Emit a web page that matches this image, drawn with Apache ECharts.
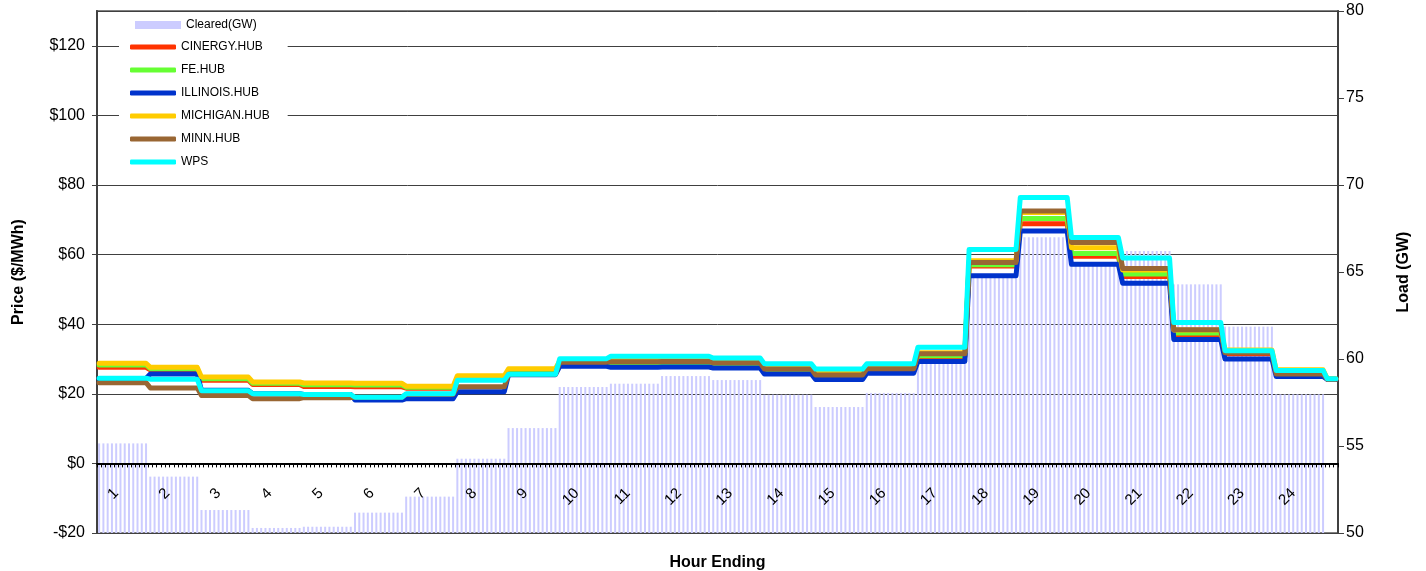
<!DOCTYPE html>
<html>
<head>
<meta charset="utf-8">
<script src="https://cdn.jsdelivr.net/npm/echarts@6/dist/echarts.min.js"></script>
<style>
html,body{margin:0;padding:0;background:#fff;}
#chart{width:1426px;height:571px;}
</style>
</head>
<body>
<div id="chart"></div>
<script>
// Hour-ending labels
const hourLabels = ['1','2','3','4','5','6','7','8','9','10','11','12','13','14','15','16','17','18','19','20','21','22','23','24'];
// Cleared load (GW) per hour
const clearedGW = [55.15, 53.24, 51.32, 50.29, 50.36, 51.17, 52.09, 54.27, 56.03, 58.39, 58.58, 59.02, 58.79, 57.95, 57.24, 58.05, 59.71, 64.8, 66.99, 65.5, 66.21, 64.29, 61.86, 57.97];
// Hourly prices ($/MWh); last entry = partial next hour shown at the right edge
const cinergyHub  = [27.6, 26.9, 23.9, 22.7, 22.1, 22.0, 21.6, 24.2, 26.5, 28.5, 28.6, 28.7, 28.3, 26.4, 24.8, 26.6, 30.6, 56.7, 68.9, 59.5, 53.7, 37.0, 31.5, 26.0, 24.2];
const feHub       = [28.3, 27.2, 24.3, 23.0, 22.6, 22.5, 21.9, 24.6, 26.8, 28.8, 29.0, 29.0, 28.6, 26.6, 25.0, 26.8, 30.9, 57.1, 70.4, 60.3, 54.4, 37.5, 31.9, 26.1, 24.2];
const illinoisHub = [24.4, 25.7, 21.0, 20.0, 19.8, 18.2, 18.6, 20.6, 25.5, 27.9, 27.6, 27.7, 27.4, 25.7, 24.1, 25.9, 29.3, 53.9, 66.8, 57.2, 51.8, 35.6, 30.0, 25.0, 24.1];
const michiganHub = [28.8, 27.6, 24.8, 23.4, 23.1, 23.0, 22.2, 25.2, 27.2, 29.4, 29.8, 29.8, 29.5, 27.4, 25.8, 27.5, 31.8, 58.2, 72.1, 62.0, 55.6, 38.3, 32.6, 26.9, 24.3];
const minnHub     = [23.2, 21.7, 19.5, 18.6, 18.9, 19.0, 19.9, 22.0, 25.6, 29.1, 29.2, 29.3, 28.9, 27.1, 25.4, 27.2, 31.5, 57.7, 72.5, 63.5, 56.0, 38.4, 31.8, 25.7, 24.2];
const wps         = [24.5, 24.2, 20.9, 20.0, 19.8, 19.0, 20.0, 23.9, 25.6, 30.1, 30.8, 30.8, 30.3, 28.6, 27.1, 28.6, 33.4, 61.5, 76.4, 64.9, 59.0, 40.5, 32.4, 26.7, 24.3];
// Y-axis tick settings
const priceTicks = {min: -20, max: 130, interval: 20};
const loadTicks = {min: 50, max: 80, interval: 5};

const intervalsPerHour = 12;   // 5-minute intervals
const tailIntervals = 3;       // partial hour at the right edge

const categories = [];
const hourOf = [];
for (let h = 0; h < hourLabels.length + 1; h++) {
  const n = h < hourLabels.length ? intervalsPerHour : tailIntervals;
  for (let i = 0; i < n; i++) {
    categories.push(h < hourLabels.length ? hourLabels[h] : '');
    hourOf.push(h);
  }
}
const expand = arr => hourOf.map(h => (h < arr.length ? arr[h] : null));

const FONT = "'Liberation Sans', Arial, sans-serif";
const lineSeries = [
  ['CINERGY.HUB', cinergyHub, '#FF3300'],
  ['FE.HUB', feHub, '#66FF33'],
  ['ILLINOIS.HUB', illinoisHub, '#0033CC'],
  ['MICHIGAN.HUB', michiganHub, '#FFCC00'],
  ['MINN.HUB', minnHub, '#996633'],
  ['WPS', wps, '#00FFFF']
];

const chart = echarts.init(document.getElementById('chart'), null, {renderer: 'canvas'});
chart.setOption({
  animation: false,
  backgroundColor: '#fff',
  textStyle: {fontFamily: FONT},
  grid: {left: 97, right: 88, top: 11, bottom: 38, containLabel: false, outerBoundsMode: 'none',
         show: true, borderColor: '#808080', borderWidth: 2, backgroundColor: 'transparent'},
  legend: [
    {
      data: ['Cleared(GW)'],
      orient: 'vertical', left: 130, top: 14,
      icon: 'rect', itemWidth: 46, itemHeight: 8,
      textStyle: {fontSize: 12, color: '#000', fontFamily: FONT}
    },
    {
      data: lineSeries.map(s => s[0]),
      orient: 'vertical', left: 119, top: 39,
      padding: [2, 18, 2, 11],
      backgroundColor: '#fff',
      icon: 'roundRect', itemWidth: 46, itemHeight: 5, itemGap: 11,
      textStyle: {fontSize: 12, color: '#000', fontFamily: FONT}
    }
  ],
  xAxis: {
    type: 'category',
    data: categories,
    boundaryGap: true,
    z: 10,
    name: 'Hour Ending',
    nameLocation: 'middle',
    nameGap: 22,
    nameTextStyle: {fontSize: 16, fontWeight: 'bold', color: '#000', fontFamily: FONT},
    axisLine: {onZero: true, onZeroAxisIndex: 0, lineStyle: {color: '#000', width: 2}},
    axisTick: {show: true, interval: 0, length: 4, lineStyle: {color: '#000', width: 1}},
    axisLabel: {
      interval: (index) => index % intervalsPerHour === 4 && index < hourLabels.length * intervalsPerHour,
      rotate: 45, margin: -42, fontSize: 15, color: '#000', fontFamily: FONT
    },
    splitLine: {show: false}
  },
  yAxis: [
    {
      type: 'value',
      min: priceTicks.min, max: priceTicks.max, interval: priceTicks.interval,
      name: 'Price ($/MWh)', nameLocation: 'middle', nameGap: 70, nameRotate: 90,
      nameTextStyle: {fontSize: 16, fontWeight: 'bold', color: '#000', fontFamily: FONT},
      axisLine: {show: true, lineStyle: {color: '#404040', width: 2}},
      axisTick: {show: true, length: 5, lineStyle: {color: '#404040'}},
      axisLabel: {
        fontSize: 16, color: '#000', margin: 12, showMaxLabel: false, fontFamily: FONT,
        formatter: v => (v < 0 ? '-$' + (-v) : '$' + v)
      },
      splitLine: {show: true, lineStyle: {color: '#404040', width: 1}}
    },
    {
      type: 'value',
      min: loadTicks.min, max: loadTicks.max, interval: loadTicks.interval,
      position: 'right',
      name: 'Load (GW)', nameLocation: 'middle', nameGap: 58, nameRotate: 90,
      nameTextStyle: {fontSize: 16, fontWeight: 'bold', color: '#000', fontFamily: FONT},
      axisLine: {show: true, lineStyle: {color: '#404040', width: 2}},
      axisTick: {show: true, length: 6, lineStyle: {color: '#404040'}},
      axisLabel: {fontSize: 16, color: '#000', margin: 8, fontFamily: FONT},
      splitLine: {show: false}
    }
  ],
  series: [
    {
      name: 'Cleared(GW)',
      type: 'bar',
      yAxisIndex: 1,
      data: expand(clearedGW),
      barWidth: 2,
      clip: true,
      itemStyle: {color: '#CCCCFF'},
      z: 1
    }
  ].concat(lineSeries.map((s, i) => ({
    name: s[0],
    type: 'line',
    yAxisIndex: 0,
    data: expand(s[1]),
    symbol: 'none',
    showSymbol: false,
    itemStyle: {color: s[2]},
    lineStyle: {color: s[2], width: 5, join: 'round', cap: 'round'},
    z: 3 + i
  })))
});
</script>
</body>
</html>
